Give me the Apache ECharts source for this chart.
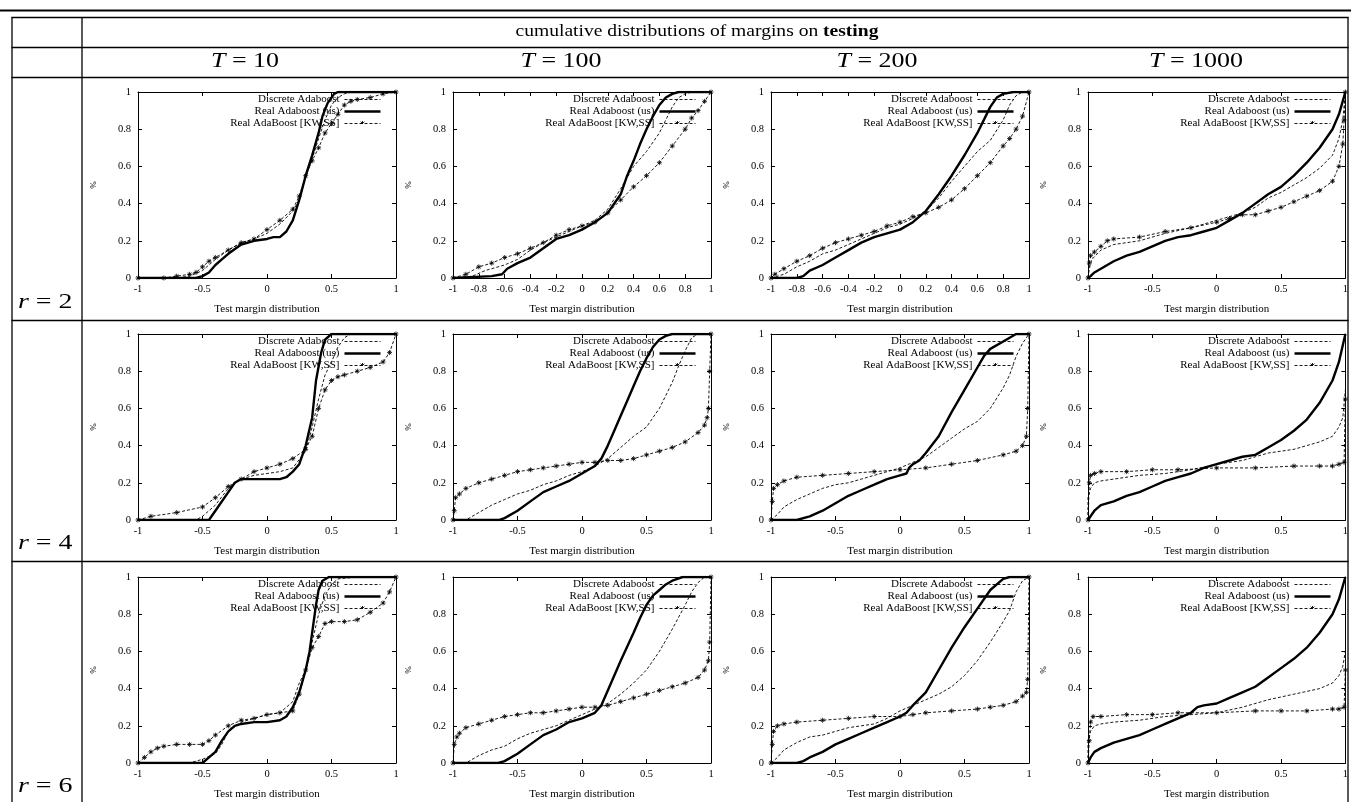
<!DOCTYPE html>
<html>
<head>
<meta charset="utf-8">
<script src="https://cdn.jsdelivr.net/npm/echarts@6/dist/echarts.min.js"></script>
<style>
  html, body { margin: 0; padding: 0; background: #fff; }
  #chart { width: 1351px; height: 802px; }
</style>
</head>
<body>
<div id="chart"></div>
<script>
// table headers
const titleText = 'cumulative distributions of margins on ';
const titleBold = 'testing';
const rowLabels = ['2', '4', '6'];
const colLabels = ['10', '100', '200', '1000'];
const seriesNames = ['Discrete Adaboost', 'Real Adaboost (us)', 'Real AdaBoost [KW,SS]'];
const xTickStep = [[0.5, 0.2, 0.2, 0.5], [0.5, 0.5, 0.5, 0.5], [0.5, 0.5, 0.5, 0.5]];

// r = 2
const r2t10Discrete = [[-1,0],[-0.7,0],[-0.6,0.01],[-0.5,0.04],[-0.4,0.1],[-0.3,0.15],[-0.2,0.19],[-0.1,0.21],[0,0.24],[0.1,0.29],[0.2,0.36],[0.25,0.42],[0.3,0.54],[0.35,0.64],[0.4,0.75],[0.45,0.85],[0.5,0.93],[0.55,0.97],[0.6,0.99],[0.65,1],[1,1]];
const r2t10Real = [[-1,0],[-0.55,0],[-0.5,0.01],[-0.45,0.03],[-0.4,0.07],[-0.35,0.1],[-0.3,0.13],[-0.2,0.18],[-0.1,0.2],[0,0.21],[0.05,0.22],[0.1,0.22],[0.15,0.25],[0.2,0.31],[0.25,0.42],[0.3,0.55],[0.35,0.66],[0.4,0.78],[0.43,0.87],[0.47,0.94],[0.52,0.99],[0.55,1],[1,1]];
const r2t10Kw = [[-1,0],[-0.8,0],[-0.7,0.01],[-0.6,0.02],[-0.55,0.03],[-0.5,0.06],[-0.45,0.09],[-0.4,0.11],[-0.3,0.15],[-0.2,0.19],[-0.1,0.21],[0,0.26],[0.1,0.31],[0.2,0.37],[0.25,0.44],[0.3,0.55],[0.35,0.63],[0.4,0.7],[0.45,0.78],[0.5,0.83],[0.55,0.88],[0.6,0.93],[0.65,0.95],[0.7,0.96],[0.8,0.97],[0.9,0.99],[1,1]];

const r2t100Discrete = [[-1,0],[-0.85,0.01],[-0.75,0.04],[-0.6,0.07],[-0.5,0.1],[-0.4,0.15],[-0.3,0.19],[-0.2,0.22],[-0.1,0.25],[0,0.28],[0.1,0.31],[0.2,0.37],[0.3,0.48],[0.4,0.6],[0.5,0.68],[0.6,0.78],[0.65,0.85],[0.7,0.92],[0.75,0.97],[0.8,0.99],[0.85,1],[1,1]];
const r2t100Real = [[-1,0],[-0.7,0.01],[-0.62,0.02],[-0.58,0.05],[-0.5,0.08],[-0.4,0.11],[-0.3,0.16],[-0.2,0.21],[-0.1,0.23],[0,0.26],[0.1,0.3],[0.2,0.35],[0.3,0.45],[0.35,0.55],[0.4,0.63],[0.45,0.72],[0.5,0.8],[0.55,0.87],[0.6,0.93],[0.65,0.97],[0.7,0.99],[0.75,1],[1,1]];
const r2t100Kw = [[-1,0],[-0.9,0.02],[-0.8,0.06],[-0.7,0.08],[-0.6,0.11],[-0.5,0.13],[-0.4,0.16],[-0.3,0.19],[-0.2,0.23],[-0.1,0.26],[0,0.28],[0.1,0.3],[0.2,0.35],[0.3,0.42],[0.4,0.49],[0.5,0.55],[0.6,0.62],[0.7,0.71],[0.8,0.8],[0.85,0.86],[0.9,0.9],[0.95,0.95],[1,1]];

const r2t200Discrete = [[-1,0],[-0.9,0.02],[-0.8,0.06],[-0.7,0.09],[-0.6,0.13],[-0.5,0.15],[-0.4,0.18],[-0.3,0.21],[-0.2,0.24],[-0.1,0.27],[0,0.29],[0.1,0.32],[0.2,0.36],[0.3,0.43],[0.4,0.52],[0.5,0.6],[0.6,0.68],[0.7,0.74],[0.8,0.85],[0.85,0.93],[0.9,0.98],[0.95,1],[1,1]];
const r2t200Real = [[-1,0],[-0.8,0],[-0.75,0.01],[-0.7,0.04],[-0.6,0.07],[-0.5,0.11],[-0.4,0.15],[-0.3,0.19],[-0.2,0.22],[-0.1,0.24],[0,0.26],[0.1,0.3],[0.2,0.36],[0.3,0.45],[0.4,0.55],[0.5,0.66],[0.6,0.78],[0.7,0.92],[0.75,0.97],[0.8,0.99],[0.88,1],[1,1]];
const r2t200Kw = [[-1,0],[-0.97,0.02],[-0.9,0.05],[-0.8,0.09],[-0.7,0.12],[-0.6,0.16],[-0.5,0.19],[-0.4,0.21],[-0.3,0.23],[-0.2,0.25],[-0.1,0.28],[0,0.3],[0.1,0.33],[0.2,0.35],[0.3,0.38],[0.4,0.42],[0.5,0.48],[0.6,0.55],[0.7,0.62],[0.8,0.71],[0.85,0.75],[0.9,0.8],[0.95,0.87],[1,1]];

const r2t1000Discrete = [[-1,0],[-0.99,0.05],[-0.97,0.1],[-0.9,0.15],[-0.8,0.18],[-0.6,0.2],[-0.4,0.24],[-0.2,0.27],[0,0.31],[0.2,0.35],[0.3,0.38],[0.4,0.43],[0.5,0.46],[0.6,0.5],[0.7,0.54],[0.8,0.59],[0.9,0.66],[0.95,0.75],[0.98,0.85],[1,1]];
const r2t1000Real = [[-1,0],[-0.98,0.01],[-0.95,0.03],[-0.9,0.05],[-0.8,0.09],[-0.7,0.12],[-0.6,0.14],[-0.5,0.17],[-0.4,0.2],[-0.3,0.22],[-0.2,0.23],[-0.1,0.25],[0,0.27],[0.1,0.31],[0.2,0.35],[0.3,0.4],[0.4,0.45],[0.5,0.49],[0.6,0.55],[0.7,0.62],[0.8,0.7],[0.9,0.8],[0.95,0.88],[1,1]];
const r2t1000Kw = [[-1,0],[-0.99,0.08],[-0.98,0.12],[-0.95,0.14],[-0.9,0.17],[-0.85,0.2],[-0.8,0.21],[-0.6,0.22],[-0.4,0.25],[-0.2,0.27],[0,0.3],[0.1,0.32],[0.2,0.34],[0.3,0.34],[0.4,0.36],[0.5,0.38],[0.6,0.41],[0.7,0.44],[0.8,0.47],[0.9,0.52],[0.95,0.6],[0.98,0.72],[0.99,0.85],[1,1]];

// r = 4
const r4t10Discrete = [[-1,0],[-0.55,0],[-0.5,0.02],[-0.4,0.08],[-0.3,0.17],[-0.2,0.22],[-0.1,0.24],[0,0.25],[0.1,0.26],[0.2,0.28],[0.3,0.37],[0.35,0.5],[0.4,0.65],[0.45,0.78],[0.5,0.85],[0.55,0.93],[0.6,0.98],[0.65,1],[1,1]];
const r4t10Real = [[-1,0],[-0.45,0],[-0.4,0.05],[-0.3,0.15],[-0.25,0.2],[-0.2,0.22],[0,0.22],[0.1,0.22],[0.15,0.23],[0.2,0.26],[0.25,0.3],[0.3,0.4],[0.35,0.55],[0.38,0.75],[0.42,0.9],[0.45,0.97],[0.5,1],[1,1]];
const r4t10Kw = [[-1,0],[-0.9,0.02],[-0.7,0.04],[-0.5,0.07],[-0.4,0.12],[-0.3,0.18],[-0.2,0.22],[-0.1,0.26],[0,0.28],[0.1,0.3],[0.2,0.33],[0.3,0.38],[0.35,0.45],[0.4,0.6],[0.45,0.7],[0.5,0.75],[0.55,0.77],[0.6,0.78],[0.7,0.8],[0.8,0.82],[0.9,0.85],[0.95,0.9],[1,1]];

const r4t100Discrete = [[-1,0],[-0.9,0],[-0.8,0.04],[-0.7,0.08],[-0.6,0.11],[-0.5,0.14],[-0.4,0.16],[-0.3,0.19],[-0.2,0.21],[-0.1,0.24],[0,0.26],[0.1,0.29],[0.2,0.33],[0.3,0.39],[0.4,0.45],[0.5,0.5],[0.6,0.6],[0.7,0.74],[0.75,0.83],[0.8,0.91],[0.85,0.98],[0.9,1],[1,1]];
const r4t100Real = [[-1,0],[-0.64,0],[-0.6,0.01],[-0.5,0.05],[-0.4,0.1],[-0.3,0.15],[-0.2,0.18],[-0.1,0.21],[0,0.25],[0.1,0.29],[0.15,0.33],[0.2,0.4],[0.25,0.48],[0.3,0.56],[0.35,0.64],[0.4,0.72],[0.45,0.8],[0.5,0.87],[0.55,0.93],[0.6,0.97],[0.65,0.99],[0.7,1],[1,1]];
const r4t100Kw = [[-1,0],[-0.99,0.05],[-0.98,0.12],[-0.95,0.14],[-0.9,0.17],[-0.8,0.2],[-0.7,0.22],[-0.6,0.24],[-0.5,0.26],[-0.4,0.27],[-0.3,0.28],[-0.2,0.29],[-0.1,0.3],[0,0.31],[0.1,0.31],[0.2,0.32],[0.3,0.32],[0.4,0.33],[0.5,0.35],[0.6,0.37],[0.7,0.39],[0.8,0.42],[0.9,0.47],[0.95,0.51],[0.97,0.55],[0.98,0.6],[0.99,0.8],[1,1]];

const r4t200Discrete = [[-1,0],[-0.95,0.03],[-0.9,0.07],[-0.8,0.11],[-0.7,0.14],[-0.6,0.17],[-0.5,0.19],[-0.4,0.2],[-0.3,0.22],[-0.2,0.24],[-0.1,0.26],[0,0.28],[0.1,0.31],[0.2,0.34],[0.3,0.39],[0.4,0.44],[0.5,0.49],[0.6,0.53],[0.7,0.6],[0.8,0.71],[0.85,0.78],[0.9,0.88],[0.95,0.95],[1,1]];
const r4t200Real = [[-1,0],[-0.8,0],[-0.7,0.02],[-0.6,0.05],[-0.5,0.09],[-0.4,0.13],[-0.3,0.16],[-0.2,0.19],[-0.1,0.22],[0,0.24],[0.05,0.25],[0.07,0.28],[0.1,0.3],[0.15,0.32],[0.2,0.36],[0.3,0.45],[0.4,0.58],[0.5,0.7],[0.6,0.82],[0.65,0.88],[0.7,0.92],[0.8,0.96],[0.9,1],[1,1]];
const r4t200Kw = [[-1,0],[-0.99,0.1],[-0.98,0.17],[-0.95,0.19],[-0.9,0.21],[-0.8,0.23],[-0.6,0.24],[-0.4,0.25],[-0.2,0.26],[0,0.27],[0.2,0.28],[0.4,0.3],[0.6,0.32],[0.8,0.35],[0.9,0.37],[0.95,0.4],[0.98,0.45],[0.99,0.6],[1,1]];

const r4t1000Discrete = [[-1,0],[-1,0.12],[-0.98,0.17],[-0.95,0.2],[-0.9,0.21],[-0.8,0.22],[-0.6,0.24],[-0.4,0.25],[-0.2,0.27],[0,0.3],[0.2,0.32],[0.3,0.34],[0.4,0.36],[0.5,0.37],[0.6,0.38],[0.7,0.4],[0.8,0.42],[0.9,0.45],[0.95,0.5],[0.98,0.55],[1,0.7]];
const r4t1000Real = [[-1,0],[-0.98,0.02],[-0.95,0.05],[-0.9,0.08],[-0.8,0.1],[-0.7,0.13],[-0.6,0.15],[-0.5,0.18],[-0.4,0.21],[-0.3,0.23],[-0.2,0.25],[-0.1,0.28],[0,0.3],[0.1,0.32],[0.2,0.34],[0.3,0.35],[0.4,0.39],[0.5,0.43],[0.6,0.48],[0.7,0.54],[0.8,0.63],[0.9,0.75],[0.95,0.85],[1,1]];
const r4t1000Kw = [[-1,0],[-0.99,0.2],[-0.98,0.24],[-0.95,0.25],[-0.9,0.26],[-0.7,0.26],[-0.5,0.27],[-0.3,0.27],[0,0.28],[0.3,0.28],[0.6,0.29],[0.8,0.29],[0.9,0.29],[0.95,0.3],[0.99,0.31],[1,0.65]];

// r = 6
const r6t10Discrete = [[-1,0],[-0.6,0],[-0.5,0.02],[-0.4,0.05],[-0.35,0.1],[-0.3,0.17],[-0.2,0.22],[-0.1,0.24],[0,0.26],[0.1,0.27],[0.2,0.33],[0.25,0.43],[0.3,0.5],[0.35,0.65],[0.4,0.8],[0.45,0.9],[0.5,0.96],[0.55,0.99],[0.7,1],[1,1]];
const r6t10Real = [[-1,0],[-0.5,0],[-0.45,0.03],[-0.4,0.06],[-0.35,0.12],[-0.3,0.17],[-0.25,0.2],[-0.2,0.21],[-0.1,0.22],[0,0.22],[0.1,0.23],[0.15,0.25],[0.2,0.3],[0.25,0.38],[0.3,0.5],[0.33,0.6],[0.36,0.75],[0.38,0.85],[0.4,0.93],[0.43,0.98],[0.48,1],[1,1]];
const r6t10Kw = [[-1,0],[-0.95,0.03],[-0.9,0.06],[-0.85,0.08],[-0.8,0.09],[-0.7,0.1],[-0.6,0.1],[-0.5,0.1],[-0.45,0.12],[-0.4,0.15],[-0.3,0.2],[-0.2,0.23],[-0.1,0.24],[0,0.26],[0.1,0.27],[0.2,0.28],[0.25,0.37],[0.3,0.5],[0.35,0.62],[0.4,0.68],[0.45,0.75],[0.5,0.76],[0.6,0.76],[0.7,0.77],[0.8,0.81],[0.9,0.86],[0.95,0.92],[1,1]];

const r6t100Discrete = [[-1,0],[-0.9,0],[-0.8,0.04],[-0.7,0.07],[-0.6,0.09],[-0.5,0.13],[-0.4,0.16],[-0.3,0.18],[-0.2,0.2],[-0.1,0.23],[0,0.26],[0.1,0.29],[0.2,0.32],[0.3,0.37],[0.4,0.43],[0.5,0.5],[0.6,0.6],[0.7,0.72],[0.8,0.85],[0.85,0.92],[0.9,0.97],[0.95,1],[1,1]];
const r6t100Real = [[-1,0],[-0.65,0],[-0.6,0.01],[-0.5,0.05],[-0.4,0.1],[-0.3,0.15],[-0.2,0.18],[-0.1,0.22],[0,0.24],[0.1,0.27],[0.15,0.31],[0.2,0.39],[0.3,0.55],[0.4,0.7],[0.45,0.78],[0.5,0.85],[0.55,0.9],[0.6,0.93],[0.65,0.96],[0.7,0.98],[0.78,1],[1,1]];
const r6t100Kw = [[-1,0],[-0.99,0.1],[-0.97,0.14],[-0.95,0.16],[-0.9,0.19],[-0.8,0.21],[-0.7,0.23],[-0.6,0.25],[-0.5,0.26],[-0.4,0.27],[-0.3,0.27],[-0.2,0.28],[-0.1,0.29],[0,0.3],[0.1,0.3],[0.2,0.31],[0.3,0.33],[0.4,0.35],[0.5,0.37],[0.6,0.39],[0.7,0.41],[0.8,0.43],[0.9,0.46],[0.95,0.5],[0.98,0.55],[0.99,0.65],[1,1]];

const r6t200Discrete = [[-1,0],[-0.95,0.03],[-0.9,0.07],[-0.8,0.11],[-0.7,0.14],[-0.6,0.15],[-0.5,0.17],[-0.4,0.19],[-0.3,0.2],[-0.2,0.21],[-0.1,0.24],[0,0.28],[0.1,0.31],[0.2,0.34],[0.3,0.37],[0.4,0.41],[0.5,0.47],[0.6,0.55],[0.7,0.65],[0.8,0.76],[0.85,0.82],[0.9,0.92],[0.95,0.98],[1,1]];
const r6t200Real = [[-1,0],[-0.8,0],[-0.75,0.01],[-0.7,0.03],[-0.6,0.06],[-0.5,0.1],[-0.4,0.13],[-0.3,0.16],[-0.2,0.19],[-0.1,0.22],[0,0.25],[0.05,0.27],[0.1,0.31],[0.2,0.38],[0.3,0.5],[0.4,0.62],[0.5,0.73],[0.6,0.83],[0.7,0.93],[0.8,0.99],[0.85,1],[1,1]];
const r6t200Kw = [[-1,0],[-0.99,0.1],[-0.98,0.17],[-0.95,0.2],[-0.9,0.21],[-0.8,0.22],[-0.6,0.23],[-0.4,0.24],[-0.2,0.25],[0,0.25],[0.1,0.26],[0.2,0.27],[0.4,0.28],[0.6,0.29],[0.7,0.3],[0.8,0.31],[0.9,0.33],[0.95,0.36],[0.98,0.38],[0.99,0.45],[1,1]];

const r6t1000Discrete = [[-1,0],[-1,0.12],[-0.98,0.17],[-0.95,0.2],[-0.9,0.21],[-0.8,0.22],[-0.6,0.23],[-0.4,0.25],[-0.2,0.26],[0,0.27],[0.2,0.3],[0.4,0.34],[0.6,0.37],[0.8,0.4],[0.9,0.43],[0.95,0.47],[0.98,0.52],[1,0.6]];
const r6t1000Real = [[-1,0],[-0.98,0.03],[-0.95,0.06],[-0.9,0.08],[-0.8,0.11],[-0.7,0.13],[-0.6,0.15],[-0.5,0.18],[-0.4,0.21],[-0.3,0.24],[-0.2,0.27],[-0.15,0.3],[-0.1,0.31],[0,0.32],[0.1,0.35],[0.2,0.38],[0.3,0.41],[0.4,0.46],[0.5,0.51],[0.6,0.56],[0.7,0.62],[0.8,0.7],[0.9,0.8],[0.95,0.88],[1,1]];
const r6t1000Kw = [[-1,0],[-0.99,0.12],[-0.98,0.22],[-0.96,0.25],[-0.9,0.25],[-0.7,0.26],[-0.5,0.26],[-0.3,0.27],[0,0.27],[0.3,0.28],[0.5,0.28],[0.7,0.28],[0.9,0.29],[0.95,0.29],[0.99,0.3],[1,0.5]];

const panels = [
  [r2t10Discrete, r2t10Real, r2t10Kw], [r2t100Discrete, r2t100Real, r2t100Kw],
  [r2t200Discrete, r2t200Real, r2t200Kw], [r2t1000Discrete, r2t1000Real, r2t1000Kw],
  [r4t10Discrete, r4t10Real, r4t10Kw], [r4t100Discrete, r4t100Real, r4t100Kw],
  [r4t200Discrete, r4t200Real, r4t200Kw], [r4t1000Discrete, r4t1000Real, r4t1000Kw],
  [r6t10Discrete, r6t10Real, r6t10Kw], [r6t100Discrete, r6t100Real, r6t100Kw],
  [r6t200Discrete, r6t200Real, r6t200Kw], [r6t1000Discrete, r6t1000Real, r6t1000Kw]
];

// layout
const W = 1351;
const SERIF = '"Liberation Serif", "DejaVu Serif", serif';
const COL_LEFT = [138, 453, 771, 1088];
const ROW_TOP = [92, 334, 577];
const BOX_W = 258, BOX_H = 186;
const ASTERISK = 'path://M5,0L5,10M0,5L10,5M1.5,1.5L8.5,8.5M8.5,1.5L1.5,8.5';
const DASH = [3, 2];

// gnuplot-like key samples: plain line, or line with a point in the middle
const keyLine = 'path://M0,0M0,4L36,4M36,8';
const keyPoint = 'path://M0,0M0,4L36,4M18,1.5L18,6.5M15.5,4L20.5,4M16.2,2.2L19.8,5.8M19.8,2.2L16.2,5.8M36,8';
const legendData = [
  { name: seriesNames[0], icon: keyLine,
    itemStyle: { color: 'none', borderColor: '#000', borderWidth: 0.9, borderType: DASH } },
  { name: seriesNames[1], icon: keyLine,
    itemStyle: { color: 'none', borderColor: '#000', borderWidth: 2.4, borderType: 'solid' } },
  { name: seriesNames[2], icon: keyPoint,
    itemStyle: { color: 'none', borderColor: '#000', borderWidth: 0.9, borderType: DASH } }
];

const black = { color: '#000', width: 1 };
const grid = [], xAxis = [], yAxis = [], series = [], legend = [];

panels.forEach((curves, i) => {
  const r = Math.floor(i / 4), c = i % 4;
  grid.push({ left: COL_LEFT[c], top: ROW_TOP[r], width: BOX_W, height: BOX_H });
  const step = xTickStep[r][c];
  const tick = { show: true, inside: true, length: 4, lineStyle: black };
  const line = { show: true, onZero: false, lineStyle: black };
  xAxis.push({
    gridIndex: i, type: 'value', min: -1, max: 1, interval: step, position: 'bottom',
    axisLine: line, axisTick: tick, splitLine: { show: false },
    axisLabel: { color: '#000', fontFamily: SERIF, fontSize: 10.5, margin: 6 },
    name: 'Test margin distribution', nameLocation: 'middle', nameGap: 26,
    nameTextStyle: { color: '#000', fontFamily: SERIF, fontSize: 11 }
  });
  xAxis.push({
    gridIndex: i, type: 'value', min: -1, max: 1, interval: step, position: 'top',
    axisLine: line, axisTick: tick, splitLine: { show: false }, axisLabel: { show: false }
  });
  yAxis.push({
    gridIndex: i, type: 'value', min: 0, max: 1, interval: 0.2, position: 'left',
    axisLine: line, axisTick: tick, splitLine: { show: false },
    axisLabel: { color: '#000', fontFamily: SERIF, fontSize: 10.5, margin: 7 },
    name: '%', nameLocation: 'middle', nameGap: 40, nameRotate: 90,
    nameTextStyle: { color: '#000', fontFamily: SERIF, fontSize: 9 }
  });
  yAxis.push({
    gridIndex: i, type: 'value', min: 0, max: 1, interval: 0.2, position: 'right',
    axisLine: line, axisTick: tick, splitLine: { show: false }, axisLabel: { show: false }
  });

  const ax = { xAxisIndex: 2 * i, yAxisIndex: 2 * i };
  series.push(Object.assign({
    type: 'line', name: seriesNames[0], data: curves[0], symbol: 'none',
    itemStyle: { color: '#000' }, lineStyle: { color: '#000', width: 0.9, type: DASH }
  }, ax));
  series.push(Object.assign({
    type: 'line', name: seriesNames[1], data: curves[1], symbol: 'none',
    itemStyle: { color: '#000' }, lineStyle: { color: '#000', width: 2.4 }
  }, ax));
  series.push(Object.assign({
    type: 'line', name: seriesNames[2], data: curves[2], symbol: ASTERISK, symbolSize: 5,
    showSymbol: true,
    itemStyle: { color: '#000', borderColor: '#000', borderWidth: 0.8 },
    lineStyle: { color: '#000', width: 0.9, type: DASH }
  }, ax));

  legend.push({
    data: legendData, orient: 'vertical', align: 'right',
    right: W - (COL_LEFT[c] + BOX_W) + 13, top: ROW_TOP[r] + 1,
    itemWidth: 36, itemHeight: 8, itemGap: -1, padding: 0, selectedMode: false,
    textStyle: { color: '#000', fontFamily: SERIF, fontSize: 11, lineHeight: 12 }
  });
});

// table rules and header text
const rules = [];
const hline = (y, x1, x2, w) => rules.push({ type: 'line', silent: true,
  shape: { x1: x1, y1: y, x2: x2, y2: y }, style: { stroke: '#000', lineWidth: w } });
const vline = (x, y1, y2) => rules.push({ type: 'line', silent: true,
  shape: { x1: x, y1: y1, x2: x, y2: y2 }, style: { stroke: '#000', lineWidth: 1.3 } });
hline(10.5, 0, W, 2);
[17.5, 47.5, 77.5, 320.5, 561.5].forEach(y => hline(y, 11.5, 1348.5, 1.3));
vline(12, 17, 802);
vline(82, 17, 802);
vline(1348, 17, 802);

const texts = [];
texts.push({
  type: 'text', x: 697, y: 32, scaleX: 1.15, silent: true,
  style: {
    text: '{n|' + titleText + '}{b|' + titleBold + '}',
    align: 'center', verticalAlign: 'middle', textAlign: 'center', textVerticalAlign: 'middle',
    rich: {
      n: { fontFamily: SERIF, fontSize: 17, fill: '#000' },
      b: { fontFamily: SERIF, fontSize: 17, fontWeight: 'bold', fill: '#000' }
    }
  }
});
const colCenters = [245, 561, 877, 1196];
colLabels.forEach((lab, c) => texts.push({
  type: 'text', x: colCenters[c], y: 62, scaleX: 1.3, silent: true,
  style: {
    text: '{i|T}{n| = ' + lab + '}',
    align: 'center', verticalAlign: 'middle', textAlign: 'center', textVerticalAlign: 'middle',
    rich: {
      i: { fontFamily: SERIF, fontSize: 20, fontStyle: 'italic', fill: '#000' },
      n: { fontFamily: SERIF, fontSize: 20, fill: '#000' }
    }
  }
}));
const rowLabelY = [302, 543, 786];
rowLabels.forEach((lab, r) => texts.push({
  type: 'text', x: 18, y: rowLabelY[r], scaleX: 1.33, silent: true,
  style: {
    text: '{i|r}{n| = ' + lab + '}',
    align: 'left', verticalAlign: 'middle', textAlign: 'left', textVerticalAlign: 'middle',
    rich: {
      i: { fontFamily: SERIF, fontSize: 21, fontStyle: 'italic', fill: '#000' },
      n: { fontFamily: SERIF, fontSize: 21, fill: '#000' }
    }
  }
}));

const chart = echarts.init(document.getElementById('chart'));
chart.setOption({
  backgroundColor: '#fff',
  animation: false,
  grid: grid,
  xAxis: xAxis,
  yAxis: yAxis,
  legend: legend,
  series: series,
  graphic: rules.concat(texts)
});
</script>
</body>
</html>
